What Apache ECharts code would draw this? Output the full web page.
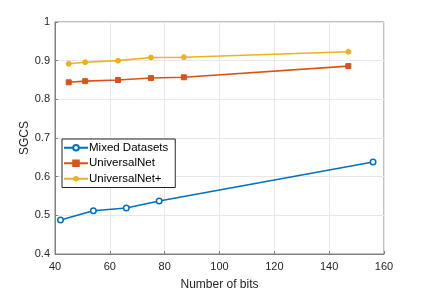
<!DOCTYPE html>
<html><head><meta charset="utf-8">
<script src="https://cdn.jsdelivr.net/npm/echarts@6/dist/echarts.min.js"></script>
<style>html,body{margin:0;padding:0;background:#fff}#c{width:424px;height:289px}</style>
</head><body><div id="c"></div>
<script>
const seriesNames = ['Mixed Datasets', 'UniversalNet', 'UniversalNet+'];
const mixedX = [42, 54, 66, 78, 156];
const mixedY = [0.488, 0.512, 0.519, 0.537, 0.638];
const uniX = [45, 51, 63, 75, 87, 147];
const uniY = [0.844, 0.847, 0.850, 0.855, 0.857, 0.886];
const uniPlusX = [45, 51, 63, 75, 87, 147];
const uniPlusY = [0.892, 0.896, 0.900, 0.908, 0.909, 0.923];
const xTicks = [40, 60, 80, 100, 120, 140, 160];
const yTicks = [0.4, 0.5, 0.6, 0.7, 0.8, 0.9, 1];

const pair = (xs, ys) => xs.map((x, i) => [x, ys[i]]);
const font = 'Liberation Sans, Arial, sans-serif';
const chart = echarts.init(document.getElementById('c'));
const axisCommon = {
  axisLine: {show: true, lineStyle: {color: '#808080', width: 1}},
  axisTick: {show: true, inside: true, length: 3, lineStyle: {color: '#808080'}},
  splitLine: {show: true, lineStyle: {color: '#e8e8e8', width: 1}},
  axisLabel: {color: '#262626', fontSize: 11, fontFamily: font},
  nameTextStyle: {color: '#262626', fontSize: 12, fontFamily: font},
  nameMoveOverlap: false
};
chart.setOption({
  animation: false,
  grid: {left: 55, right: 40, top: 22, bottom: 35, show: true, borderColor: '#808080', borderWidth: 1,
         containLabel: false, outerBoundsMode: 'none'},
  xAxis: Object.assign({}, axisCommon, {
    type: 'value', min: xTicks[0], max: xTicks[xTicks.length - 1], interval: 20,
    name: 'Number of bits', nameLocation: 'middle', nameGap: 25,
    nameTextStyle: Object.assign({}, axisCommon.nameTextStyle, {verticalAlign: 'top'}),
    axisLabel: Object.assign({}, axisCommon.axisLabel, {margin: 7})
  }),
  yAxis: Object.assign({}, axisCommon, {
    type: 'value', min: yTicks[0], max: yTicks[yTicks.length - 1], interval: 0.1,
    name: 'SGCS', nameLocation: 'middle', nameGap: 24,
    nameTextStyle: Object.assign({}, axisCommon.nameTextStyle, {verticalAlign: 'bottom'}),
    axisLabel: Object.assign({}, axisCommon.axisLabel, {margin: 5, formatter: v => String(Math.round(v * 10) / 10)})
  }),
  legend: {
    orient: 'vertical', left: 62, top: 139,
    backgroundColor: '#fff', borderColor: '#262626', borderWidth: 1, borderRadius: 0,
    padding: [2, 7, 2, 1], itemGap: 2, itemWidth: 24, itemHeight: 7,
    textStyle: {color: '#000', fontSize: 11.5, fontFamily: font, lineHeight: 13.5, padding: [0, 0, 0, -4]},
    data: seriesNames
  },
  series: [
    {name: seriesNames[0], type: 'line', data: pair(mixedX, mixedY), color: '#0072BD',
     lineStyle: {width: 1.6, color: '#0072BD'}, symbol: 'circle', symbolSize: 5.5,
     itemStyle: {color: '#fff', borderColor: '#0072BD', borderWidth: 1.5}},
    {name: seriesNames[1], type: 'line', data: pair(uniX, uniY), color: '#D95319',
     lineStyle: {width: 1.6, color: '#D95319'}, symbol: 'rect', symbolSize: 5,
     itemStyle: {color: '#D95319', borderColor: '#D95319', borderWidth: 1}},
    {name: seriesNames[2], type: 'line', data: pair(uniPlusX, uniPlusY), color: '#EDB120',
     lineStyle: {width: 1.6, color: '#EDB120'}, symbol: 'circle', symbolSize: 5,
     itemStyle: {color: '#EDB120', borderColor: '#EDB120'}}
  ]
});
</script></body></html>
